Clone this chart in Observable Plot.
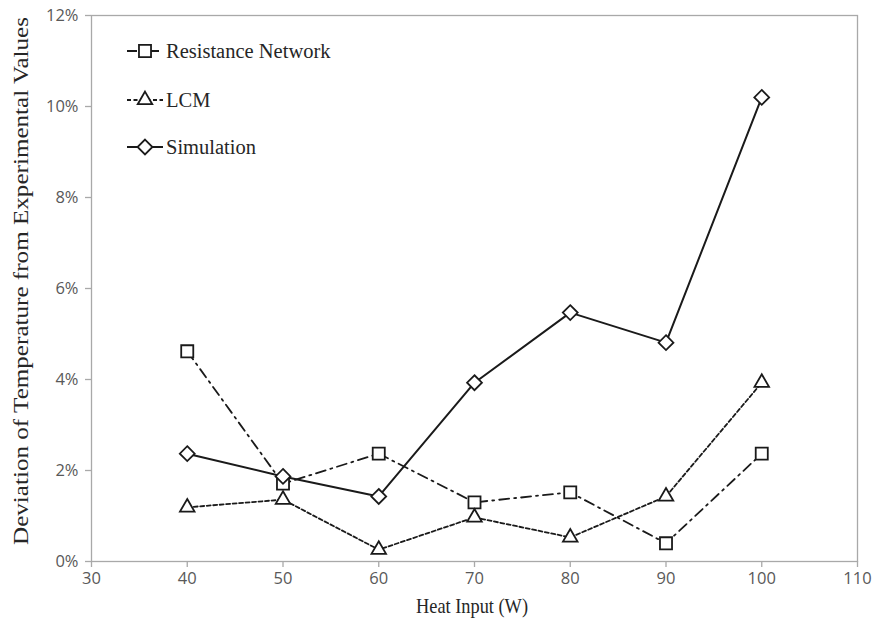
<!DOCTYPE html>
<html>
<head>
<meta charset="utf-8">
<script src="https://cdn.jsdelivr.net/npm/d3@7"></script>
<script src="https://cdn.jsdelivr.net/npm/@observablehq/plot@0.6"></script>
<style>
  html, body { margin: 0; padding: 0; background: #fff; }
  #chart { width: 882px; height: 630px; }
</style>
</head>
<body>
<div id="chart"></div>
<script>
// ---- data (values in percent) ----
const heatInput = [40, 50, 60, 70, 80, 90, 100];
const resistanceNetwork = [4.62, 1.71, 2.37, 1.30, 1.52, 0.40, 2.37];
const lcm = [1.19, 1.36, 0.26, 0.97, 0.53, 1.43, 3.93];
const simulation = [2.37, 1.87, 1.43, 3.93, 5.47, 4.81, 10.2];

const xTicks = [30, 40, 50, 60, 70, 80, 90, 100, 110];
const yTicks = [0, 2, 4, 6, 8, 10, 12];

const seriesNames = ["Resistance Network", "LCM", "Simulation"];
const xTitle = "Heat Input (W)";
const yTitle = "Deviation of Temperature from Experimental Values";

// ---- build table ----
const seriesValues = [resistanceNetwork, lcm, simulation];
const styles = [
  {symbol: "square", r: 6.8, dash: "10,5,2,5", width: 1.8},
  {symbol: "triangle", r: 5.4, dash: "4,2.5", width: 1.8},
  {symbol: "diamond2", r: 6.7, dash: null, width: 2}
];
const rows = [];
seriesNames.forEach((name, i) => {
  heatInput.forEach((x, j) => rows.push({series: name, idx: i, x, y: seriesValues[i][j]}));
});

const ink = "#1a1a1a";
const axisGray = "#a9a9a9";
const tickText = "#595959";
const sansFont = "'Open Sans', 'Liberation Sans', sans-serif";
const serifFont = "'Liberation Serif', 'DejaVu Serif', serif";

const marks = [
  Plot.frame({stroke: axisGray, strokeWidth: 1.3}),
  Plot.axisX({ticks: xTicks, tickSize: 6, tickPadding: 5, label: null,
    color: tickText, fontSize: 16.5, fontFamily: sansFont}),
  Plot.axisY({ticks: yTicks, tickSize: 6, tickPadding: 7, label: null,
    tickFormat: d => d + "%", color: tickText, fontSize: 16.5, fontFamily: sansFont})
];
styles.forEach((s, i) => {
  const data = rows.filter(d => d.idx === i);
  marks.push(Plot.line(data, {x: "x", y: "y", stroke: ink, strokeWidth: s.width,
    strokeDasharray: s.dash || undefined}));
});
styles.forEach((s, i) => {
  const data = rows.filter(d => d.idx === i);
  marks.push(Plot.dot(data, {x: "x", y: "y", symbol: () => s.symbol, r: s.r,
    stroke: ink, strokeWidth: 1.8, fill: "white"}));
});

const plot = Plot.plot({
  width: 882,
  height: 630,
  marginLeft: 91,
  marginRight: 25,
  marginTop: 15,
  marginBottom: 69,
  x: {domain: [30, 110], label: null},
  y: {domain: [0, 12], label: null},
  symbol: {type: "identity"},
  style: {background: "white", overflow: "visible"},
  marks
});

document.getElementById("chart").appendChild(plot);

const svg = d3.select(plot);
// tick lines gray
svg.selectAll('g[aria-label="x-axis tick"] path, g[aria-label="y-axis tick"] path')
  .attr("stroke", axisGray).attr("stroke-width", 1.3);

// axis titles
const xs = plot.scale("x");
const xMid = (xs.apply(30) + xs.apply(110)) / 2;

svg.append("text")
  .attr("x", xMid - 2).attr("y", 613)
  .attr("text-anchor", "middle")
  .attr("font-family", serifFont).attr("font-size", 21)
  .attr("textLength", 112).attr("lengthAdjust", "spacingAndGlyphs")
  .attr("fill", "#262626")
  .text(xTitle);

svg.append("text")
  .attr("transform", `translate(28,281) rotate(-90)`)
  .attr("text-anchor", "middle")
  .attr("font-family", serifFont).attr("font-size", 21.5)
  .attr("textLength", 528).attr("lengthAdjust", "spacingAndGlyphs")
  .attr("fill", "#262626")
  .text(yTitle);

// legend
const legendY = [51, 100, 147];
const symMap = {square: d3.symbolSquare, triangle: d3.symbolTriangle, diamond2: d3.symbolDiamond2};
styles.forEach((s, i) => {
  const g = svg.append("g").attr("transform", `translate(0,${legendY[i]})`);
  g.append("line").attr("x1", 127).attr("x2", 163).attr("y1", 0).attr("y2", 0)
    .attr("stroke", ink).attr("stroke-width", s.width)
    .attr("stroke-dasharray", s.dash || null);
  g.append("path")
    .attr("transform", `translate(145,0)`)
    .attr("d", d3.symbol(symMap[s.symbol], s.r * s.r * Math.PI)())
    .attr("fill", "white").attr("stroke", ink).attr("stroke-width", 1.8);
  g.append("text").attr("x", 166).attr("y", 0).attr("dy", "0.33em")
    .attr("text-anchor", "start")
    .attr("font-family", serifFont).attr("font-size", 20.5)
    .attr("fill", "#262626")
    .text(seriesNames[i]);
});
</script>
</body>
</html>
